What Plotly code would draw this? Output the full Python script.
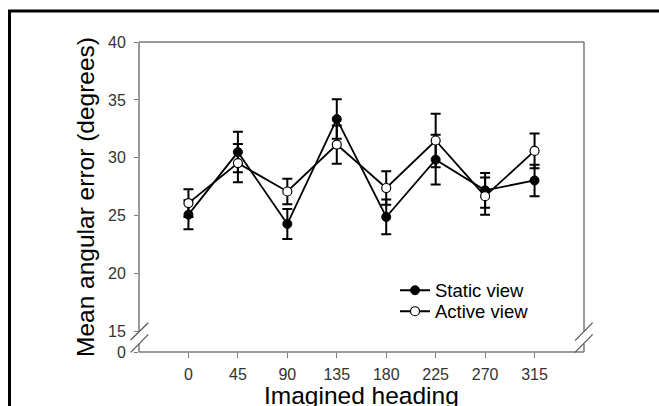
import plotly.graph_objects as go

# ---- data ----
headings = [0, 45, 90, 135, 180, 225, 270, 315]
x_tick_text = ["0", "45", "90", "135", "180", "225", "270", "315"]

static_mean = [25.1, 30.5, 24.3, 33.35, 24.9, 29.85, 27.2, 28.05]
static_err = [1.25, 1.75, 1.3, 1.7, 1.5, 2.15, 1.5, 1.35]

active_mean = [26.1, 29.55, 27.1, 31.15, 27.4, 31.5, 26.7, 30.6]
active_err = [1.2, 1.65, 1.1, 1.65, 1.45, 2.3, 1.6, 1.5]

# broken y axis: the "0" label sits just below 15
y_break_bottom = 13.25
y_tick_vals = [y_break_bottom, 15, 20, 25, 30, 35, 40]
y_tick_text = ["0", "15", "20", "25", "30", "35", "40"]

x_title = "Imagined heading"
y_title = "Mean angular error (degrees)"

# ---- layout geometry (pixels) ----
W, H = 659, 406
L, R, T, B = 139, 75, 42, 54
PW, PH = W - L - R, H - T - B


def px(x):
    return (x - L) / PW


def py(y):
    return (H - B - y) / PH


AX = "#7a7a7a"
FONT = "Liberation Sans, Arial, sans-serif"

fig = go.Figure()

fig.add_trace(go.Scatter(
    x=headings, y=static_mean, name="Static view", legend="legend",
    mode="lines+markers",
    line=dict(color="black", width=1.8),
    marker=dict(symbol="circle", size=9, color="black",
                line=dict(color="black", width=1)),
    error_y=dict(type="data", array=static_err, color="black",
                 thickness=2, width=5),
))
fig.add_trace(go.Scatter(
    x=headings, y=active_mean, name="Active view", legend="legend2",
    mode="lines+markers",
    line=dict(color="black", width=1.8),
    marker=dict(symbol="circle", size=9, color="white",
                line=dict(color="black", width=1.2)),
    error_y=dict(type="data", array=active_err, color="black",
                 thickness=2, width=5),
))

shapes = []
# plot frame with axis breaks
frame = [
    ((L, T), (W - R, T)),                # top
    ((L, H - B), (W - R, H - B)),        # bottom
    ((L, T), (L, 331.5)),                # left upper
    ((L, 343.8), (L, H - B)),            # left lower
    ((W - R, T), (W - R, 331.5)),        # right upper
    ((W - R, 343.8), (W - R, H - B)),    # right lower
]
for (x0, y0), (x1, y1) in frame:
    shapes.append(dict(type="line", xref="paper", yref="paper",
                       x0=px(x0), y0=py(y0), x1=px(x1), y1=py(y1),
                       line=dict(color=AX, width=1.5)))
# break slashes
for (x0, y0), (x1, y1) in [
    ((130.7, 340.0), (148.3, 322.7)),
    ((130.7, 352.3), (148.3, 334.3)),
    ((575.0, 340.7), (592.7, 322.7)),
    ((575.0, 352.3), (592.7, 334.3)),
]:
    shapes.append(dict(type="line", xref="paper", yref="paper",
                       x0=px(x0), y0=py(y0), x1=px(x1), y1=py(y1),
                       line=dict(color="#555555", width=1.2)))
# outer black border
shapes.append(dict(type="line", xref="paper", yref="paper",
                   x0=px(9.5), y0=py(11), x1=px(9.5), y1=py(430),
                   line=dict(color="black", width=3)))
shapes.append(dict(type="line", xref="paper", yref="paper",
                   x0=px(8), y0=py(11), x1=px(680), y1=py(11),
                   line=dict(color="black", width=3)))

legend_style = dict(xanchor="left", yanchor="middle",
                    bgcolor="rgba(0,0,0,0)", borderwidth=0,
                    font=dict(size=18.5, color="black"),
                    tracegroupgap=0, itemwidth=30)

fig.update_layout(
    width=W, height=H,
    margin=dict(l=L, r=R, t=T, b=B, pad=0, autoexpand=False),
    paper_bgcolor="white", plot_bgcolor="white",
    font=dict(family=FONT, color="black"),
    showlegend=True,
    legend=dict(x=px(395), y=py(290.7), **legend_style),
    legend2=dict(x=px(395), y=py(311.7), **legend_style),
    shapes=shapes,
    annotations=[dict(
        text=x_title, xref="paper", yref="paper",
        x=0.5, y=py(379.5), xanchor="center", yanchor="top",
        showarrow=False, font=dict(size=24.5, color="black"),
    )],
    xaxis=dict(
        range=[-45, 360], tickmode="array", tickvals=headings,
        ticktext=x_tick_text, ticks="outside", ticklen=5, tickwidth=1.2,
        tickcolor=AX, showline=False, showgrid=False, zeroline=False,
        automargin=False, ticklabelstandoff=3,
        tickfont=dict(size=16, color="#333333"),
    ),
    yaxis=dict(
        range=[y_break_bottom, 40], tickmode="array", tickvals=y_tick_vals,
        ticktext=y_tick_text, ticks="outside", ticklen=4, tickwidth=1.2,
        tickcolor=AX, showline=False, showgrid=False, zeroline=False,
        automargin=False, ticklabelstandoff=5,
        tickfont=dict(size=16, color="#333333"),
        title=dict(text=y_title,
                   font=dict(size=24.5, color="black"), standoff=6),
    ),
)

fig.write_html(
    "out.html",
    config={"displayModeBar": False},
    post_script="document.body.style.margin='0';"
                "document.body.style.overflow='hidden';",
)
